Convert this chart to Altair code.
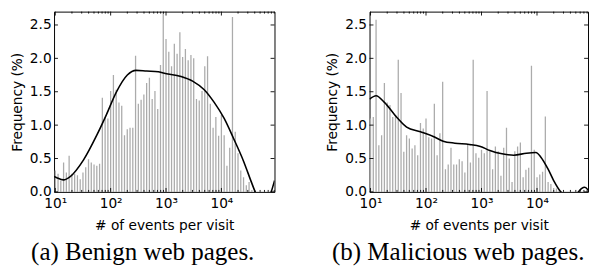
import altair as alt
import pandas as pd

# ---- data (percent per log bin, 20 bins per decade, first bin centred at 10) ----
BINS_PER_DECADE = 20
FIRST_BIN = 10.0

benign_freq = [
    0.32, 0.27, 0.17, 0.44, 0.29, 0.54, 0.27, 0.27, 0.25, 0.19,
    0.29, 0.37, 0.49, 0.44, 0.41, 0.39, 0.42, 1.41, 1.12, 1.10,
    1.51, 1.75, 1.53, 1.34, 1.29, 0.85, 0.94, 0.96, 0.96, 2.04,
    1.32, 1.38, 1.46, 1.63, 1.71, 1.39, 1.51, 1.24, 1.90, 2.68,
    2.29, 2.10, 1.88, 2.22, 2.07, 2.39, 2.02, 2.14, 1.97, 2.05,
    2.00, 1.39, 1.37, 1.51, 1.88, 2.03, 1.32, 0.96, 1.12, 0.84,
    1.15, 0.85, 0.39, 0.66, 2.62, 0.90, 0.58, 0.32, 0.22, 0.10,
    0.15, 0.03, 0.0, 0.0, 0.0, 0.0, 0.0, 0.0, 0.0, 0.0,
]

malicious_freq = [
    1.10, 1.12, 2.58, 0.70, 0.85, 1.63, 1.34, 1.30, 1.12, 1.15,
    1.98, 1.48, 0.60, 0.85, 0.80, 0.65, 0.70, 0.55, 1.03, 0.95,
    1.10, 0.82, 0.80, 1.32, 0.55, 0.88, 1.65, 0.34, 0.41, 0.66,
    0.41, 0.41, 0.49, 0.46, 0.29, 0.71, 0.44, 1.98, 0.58, 0.51,
    0.63, 0.58, 1.51, 0.61, 0.34, 0.68, 0.61, 0.24, 0.66, 0.96,
    0.50, 0.15, 0.61, 0.68, 0.74, 0.22, 0.33, 0.36, 1.89, 0.63,
    0.22, 0.26, 0.30, 1.13, 0.15, 0.12, 0.06, 0.05, 0.02, 0.0,
    0.0, 0.0, 0.0, 0.0, 0.0, 0.0, 0.0, 0.0, 0.0, 0.0,
]

# smoothed density curves (x in events per visit, y in %)
benign_kde_x = [9.5, 10.2, 14.1, 18.6, 32.4, 56.2, 83.2, 126, 200, 288, 447, 724,
                891, 1862, 3020, 4898, 7413, 11220, 16600, 25120, 34670, 40740,
                56230, 79430, 91200]
benign_kde_y = [0.23, 0.22, 0.18, 0.23, 0.48, 0.85, 1.15, 1.49, 1.75, 1.82, 1.81,
                1.80, 1.78, 1.73, 1.66, 1.53, 1.34, 1.10, 0.80, 0.46, 0.15, 0.0,
                -0.25, 0.0, 0.17]

malicious_kde_x = [9.6, 12.6, 17.8, 30.2, 44.7, 79.4, 135, 204, 331, 603, 955,
                   1413, 2344, 3802, 6457, 9550, 11750, 15850, 19950, 26300,
                   35480, 52480, 63100, 72440, 83180]
malicious_kde_y = [1.39, 1.44, 1.34, 1.11, 0.97, 0.90, 0.83, 0.76, 0.73, 0.71,
                   0.68, 0.62, 0.57, 0.55, 0.58, 0.59, 0.52, 0.34, 0.17, 0.01,
                   -0.05, -0.02, 0.05, 0.07, 0.03]

x_major = [10, 100, 1000, 10000]
x_minor = [m * 10 ** e for e in range(1, 5) for m in range(2, 10)]
y_ticks = [0.0, 0.5, 1.0, 1.5, 2.0, 2.5]

H = 184
FONT = "DejaVu Sans"
SERIF = "Liberation Serif"
GREY = "#ababab"


def panel(freq, kx, ky, xdom, width, caption, dx):
    centers = [FIRST_BIN * 10 ** (k / BINS_PER_DECADE) for k in range(len(freq))]
    bars_df = pd.DataFrame({"x": centers, "y": freq})
    kde_df = pd.DataFrame({"x": kx, "y": ky})
    major_df = pd.DataFrame({"x": [v for v in x_major if xdom[0] <= v <= xdom[1]]})
    minor_df = pd.DataFrame({"x": [v for v in x_minor if xdom[0] <= v <= xdom[1]]})
    ytick_df = pd.DataFrame({"y": y_ticks})

    xs = alt.Scale(type="log", domain=xdom, nice=False)
    ys = alt.Scale(domain=[0, 2.7], nice=False, zero=False)
    xaxis = alt.Axis(
        values=x_major,
        labelExpr="'10' + ['⁰','¹','²','³','⁴','⁵'][round(log(datum.value)/LN10)]",
        title="# of events per visit",
        ticks=False, domain=False, grid=False,
        labelFont=FONT, labelFontSize=14, labelColor="black", labelPadding=5,
        labelFlush=False,
        titleFont=FONT, titleFontSize=14, titleColor="black", titleFontWeight="normal",
        titlePadding=8,
    )
    yaxis = alt.Axis(
        values=y_ticks, format=".1f", title="Frequency (%)",
        ticks=False, domain=False, grid=False,
        labelFont=FONT, labelFontSize=14, labelColor="black", labelPadding=3,
        titleFont=FONT, titleFontSize=14, titleColor="black", titleFontWeight="normal",
        titlePadding=5,
    )
    X = alt.X("x:Q", scale=xs, axis=xaxis)
    Y = alt.Y("y:Q", scale=ys, axis=yaxis)

    bars = alt.Chart(bars_df).mark_rule(color=GREY, strokeWidth=1.3, clip=True).encode(
        x=X, y=Y, y2=alt.datum(0))
    kde = alt.Chart(kde_df).mark_line(color="black", strokeWidth=1.6, clip=True,
                                      interpolate="monotone").encode(x=X, y=Y)

    def xt(df, y0, y1):
        return alt.Chart(df).mark_rule(color="black", strokeWidth=0.9).encode(
            x=X, y=alt.value(y0), y2=alt.value(y1))

    def yt(x0, x1):
        return alt.Chart(ytick_df).mark_rule(color="black", strokeWidth=0.9).encode(
            y=Y, x=alt.value(x0), x2=alt.value(x1))

    layers = [
        bars, kde,
        xt(major_df, 0, 4), xt(major_df, H, H - 4),
        xt(minor_df, 0, 2), xt(minor_df, H, H - 2),
        yt(0, 4), yt(width, width - 4),
    ]
    return alt.layer(*layers).properties(
        width=width, height=H,
        title=alt.TitleParams(caption, orient="bottom", anchor="middle", dx=dx,
                              font=SERIF, fontSize=25.5, fontWeight="normal",
                              color="black", offset=9),
    )


left = panel(benign_freq, benign_kde_x, benign_kde_y, [9.5, 91000], 225,
             "(a) Benign web pages.", -22)
right = panel(malicious_freq, malicious_kde_x, malicious_kde_y, [9.6, 83000], 223,
              "(b) Malicious web pages.", -21)

chart = alt.hconcat(left, right, spacing=51).properties(
    padding={"left": 2, "top": 0, "right": 0, "bottom": 0}
).configure_view(stroke="black", strokeWidth=1).configure_title(font=SERIF)

chart.save("out.html", embed_options={"renderer": "svg", "actions": False})
